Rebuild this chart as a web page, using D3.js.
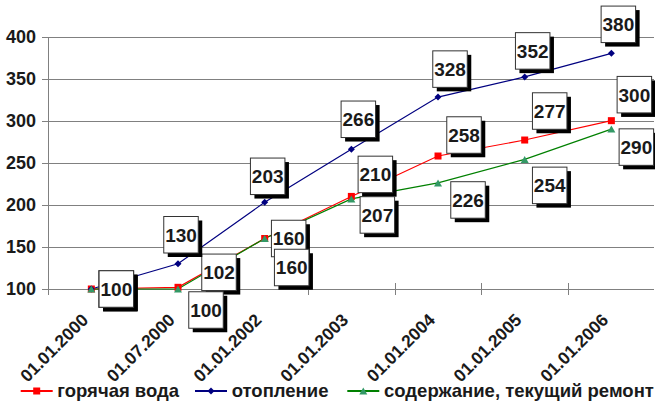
<!DOCTYPE html>
<html>
<head>
<meta charset="utf-8">
<script src="https://d3js.org/d3.v7.min.js"></script>
<style>
  body { margin: 0; background: #fff; }
  svg { font-family: "Liberation Sans", Arial, sans-serif; font-weight: bold; }
  .grid line { stroke: #808080; stroke-width: 1px; shape-rendering: crispEdges; }
  .tick-lab { font-size: 18px; fill: #1a1a1a; }
  .cat-lab { font-size: 17.5px; fill: #1a1a1a; }
  .dlab text { font-size: 19px; fill: #1a1a1a; }
  .legend text { font-size: 18.5px; fill: #1a1a1a; }
</style>
</head>
<body>
<svg id="chart" width="655" height="405"></svg>
<script>
// data
const categories = ['01.01.2000', '01.07.2000', '01.01.2002', '01.01.2003', '01.01.2004', '01.01.2005', '01.01.2006'];
const hotWater    = [100, 102, 160, 210, 258, 277, 300];
const heating     = [100, 130, 203, 266, 328, 352, 380];
const maintenance = [100, 100, 160, 207, 226, 254, 290];
const yTicks = [100, 150, 200, 250, 300, 350, 400];

// where each value label sits relative to its point (manually placed in the original)
const hotWaterLabelShift    = [[25, 0], [41, -15], [24, 0], [24, -22], [26, -21], [25, -29], [23, -26]];
const heatingLabelShift     = [[25, 0], [3, -29], [3, -26], [7, -30], [12, -28], [8, -26], [7, -29]];
const maintenanceLabelShift = [[25, 0], [28, 21], [27, 29], [26, 16], [30, 17], [25, 26], [25, 18]];

const series = [
  {name: 'горячая вода', values: hotWater, shift: hotWaterLabelShift, line: '#ff0000', fill: '#ff0000', marker: 'square'},
  {name: 'отопление', values: heating, shift: heatingLabelShift, line: '#000080', fill: '#000080', marker: 'diamond'},
  {name: 'содержание, текущий ремонт', values: maintenance, shift: maintenanceLabelShift, line: '#008000', fill: '#339966', marker: 'triangle'}
];

const svg = d3.select('#chart');
const plotLeft = 48, plotRight = 654.7, plotTop = 36.5, plotBottom = 289;

const x = d3.scaleBand().domain(categories).range([plotLeft, plotRight]);
const y = d3.scaleLinear().domain([100, 400]).range([plotBottom, plotTop]);
const cx = c => x(c) + x.bandwidth() / 2;

// gridlines
const grid = svg.append('g').attr('class', 'grid');
grid.selectAll('line.h').data(yTicks).enter().append('line')
  .attr('x1', plotLeft).attr('x2', plotRight - 1)
  .attr('y1', d => Math.round(y(d)) + 0.5).attr('y2', d => Math.round(y(d)) + 0.5);
grid.selectAll('line.t').data(yTicks).enter().append('line')
  .attr('x1', plotLeft - 6).attr('x2', plotLeft)
  .attr('y1', d => Math.round(y(d)) + 0.5).attr('y2', d => Math.round(y(d)) + 0.5);
grid.append('line').attr('x1', plotLeft).attr('x2', plotLeft).attr('y1', plotTop).attr('y2', plotBottom + 5);
grid.selectAll('line.xt').data(categories.map(c => x(c)).concat([plotRight])).enter().append('line')
  .attr('x1', d => Math.round(d)).attr('x2', d => Math.round(d))
  .attr('y1', plotBottom - 6).attr('y2', plotBottom + 6);

// y labels
svg.selectAll('text.ytick').data(yTicks).enter().append('text')
  .attr('class', 'tick-lab')
  .attr('x', 36).attr('y', d => y(d)).attr('dy', '0.35em')
  .attr('text-anchor', 'end')
  .text(d => d);

// x labels
svg.selectAll('text.xtick').data(categories).enter().append('text')
  .attr('class', 'cat-lab')
  .attr('text-anchor', 'end')
  .attr('transform', d => `translate(${cx(d) - 2},${321}) rotate(-45)`)
  .text(d => d);

// markers
function drawMarker(g, type, color, size) {
  if (type === 'square') {
    g.append('rect').attr('x', -size / 2).attr('y', -size / 2).attr('width', size).attr('height', size).attr('fill', color);
  } else if (type === 'diamond') {
    const s = size / 2;
    g.append('path').attr('d', `M0,${-s}L${s},0L0,${s}L${-s},0Z`).attr('fill', color);
  } else {
    const s = size / 2;
    g.append('path').attr('d', `M0,${-s}L${s + 0.5},${s}L${-s - 0.5},${s}Z`).attr('fill', color);
  }
}

const line = d3.line().x((d, i) => cx(categories[i])).y(d => y(d));

series.forEach(s => {
  svg.append('path').datum(s.values)
    .attr('d', line).attr('fill', 'none')
    .attr('stroke', s.line).attr('stroke-width', 1.2);
});
series.forEach(s => {
  s.values.forEach((v, i) => {
    const g = svg.append('g').attr('transform', `translate(${cx(categories[i])},${y(v)})`);
    drawMarker(g, s.marker, s.fill, 7);
  });
});

// value labels
const bw = 34.5, bh = 36.5;
series.forEach(s => {
  s.values.forEach((v, i) => {
    const px = cx(categories[i]) + s.shift[i][0];
    const py = y(v) + s.shift[i][1];
    const g = svg.append('g').attr('class', 'dlab').attr('transform', `translate(${px},${py})`);
    g.append('rect').attr('x', -bw / 2 + 4).attr('y', -bh / 2 + 4).attr('width', bw).attr('height', bh).attr('fill', '#000');
    g.append('rect').attr('x', -bw / 2).attr('y', -bh / 2).attr('width', bw).attr('height', bh)
      .attr('fill', '#fff').attr('stroke', '#333').attr('stroke-width', 1);
    g.append('text').attr('text-anchor', 'middle').attr('dy', '0.36em').text(v);
  });
});

// legend
const legendX = [[20.7, 57.3], [195, 231.7], [347.3, 384]];
const legend = svg.append('g').attr('class', 'legend');
series.forEach((s, i) => {
  const ly = 391;
  legend.append('line').attr('x1', legendX[i][0]).attr('x2', legendX[i][0] + 32)
    .attr('y1', ly).attr('y2', ly).attr('stroke', s.line).attr('stroke-width', 2);
  const g = legend.append('g').attr('transform', `translate(${legendX[i][0] + 16},${ly})`);
  drawMarker(g, s.marker, s.fill, 7);
  legend.append('text').attr('x', legendX[i][1]).attr('y', ly).attr('dy', '0.35em').text(s.name);
});
</script>
</body>
</html>
